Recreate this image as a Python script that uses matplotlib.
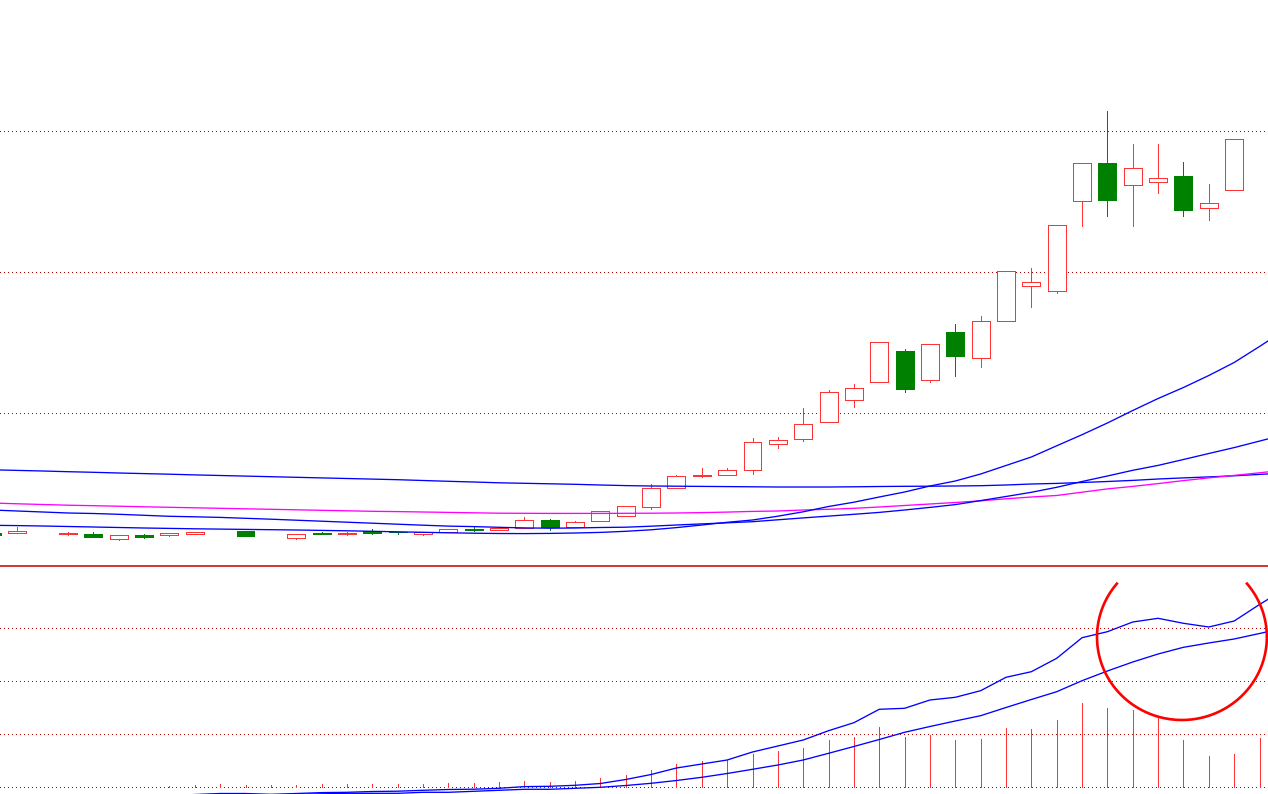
"""
Candlestick chart + 4 moving averages, MACD-style sub window below.
No axis labels, MT4 look (white bg, dotted dark red grid).
"""

import numpy as np
import matplotlib
matplotlib.use("Agg")
import matplotlib.pyplot as plt
from matplotlib.patches import Rectangle

nan = np.nan

###################
## CANDLE DATA   ##
###################
# bar -1 is the one cut by the left edge, missing bars are nan
BARS = list(range(-1, 50))
OPEN  = [12.13, 12.13, nan, 12.04, 12.00, 11.53, 11.90, 11.93, 11.97, nan,
         12.30, nan, 11.63, 12.10, 12.03, 12.27, 12.23, 12.03, 12.23, 12.48,
         12.37, 12.60, 13.37, 12.70, 13.27, 13.77, 14.67, 16.57, 17.83, 17.87,
         18.37, 20.97, 21.47, 23.17, 25.37, 27.17, 30.30, 27.37, 32.20, 29.57,
         33.30, 36.77, 36.27, 45.27, 49.10, 46.87, 47.17, 47.80, 44.57, 46.37, nan]
HIGH  = [12.13, 12.70, nan, 12.20, 12.20, 11.87, 12.03, 12.10, 12.20, nan,
         12.30, nan, 12.00, 12.23, 12.23, 12.50, 12.25, 12.17, 12.47, 12.73,
         12.60, 13.70, 13.50, 13.30, 14.27, 14.77, 17.00, 17.93, 18.60, 18.60,
         21.60, 21.70, 24.60, 26.40, 27.00, 31.17, 30.50, 30.97, 33.00, 33.80,
         38.27, 38.60, 42.87, 49.07, 54.30, 51.00, 51.00, 49.20, 47.00, 51.47, nan]
LOW   = [11.93, 12.13, nan, 11.93, 11.73, 11.43, 11.63, 11.83, 11.97, nan,
         11.83, nan, 11.50, 12.03, 11.93, 12.03, 12.03, 11.93, 12.23, 12.30,
         12.37, 12.60, 12.37, 12.70, 13.27, 13.77, 14.50, 16.57, 17.73, 17.87,
         18.03, 20.63, 21.33, 23.17, 24.73, 27.17, 26.23, 27.23, 27.83, 28.73,
         33.30, 34.73, 36.13, 42.83, 43.83, 42.83, 46.13, 43.83, 43.43, 46.37, nan]
CLOSE = [11.93, 12.30, nan, 12.08, 11.73, 11.87, 11.73, 12.10, 12.20, nan,
         11.83, nan, 12.00, 12.03, 12.10, 12.13, 12.20, 12.17, 12.47, 12.45,
         12.60, 13.37, 12.73, 13.17, 14.27, 14.77, 16.57, 17.77, 17.87, 18.37,
         21.17, 21.37, 22.97, 26.17, 26.57, 31.17, 26.53, 30.97, 29.83, 33.30,
         38.27, 37.17, 42.87, 49.07, 45.43, 48.57, 47.57, 44.43, 45.07, 51.47, nan]

#######################
## MOVING AVERAGES   ##
#######################
MA_BARS = list(range(-1, 51))
MA_SLOW = [18.42, 18.36, 18.30, 18.23, 18.17, 18.10, 18.04, 17.98, 17.91, 17.85,
           17.79, 17.73, 17.67, 17.61, 17.55, 17.49, 17.43, 17.35, 17.27, 17.20,
           17.12, 17.07, 17.02, 16.97, 16.90, 16.84, 16.80, 16.78, 16.76, 16.74,
           16.72, 16.70, 16.70, 16.70, 16.72, 16.75, 16.77, 16.78, 16.80, 16.83,
           16.90, 17.00, 17.06, 17.15, 17.25, 17.36, 17.50, 17.61, 17.71, 17.82,
           17.96, 18.10]
MA_PINK = [15.10, 15.02, 14.95, 14.88, 14.83, 14.78, 14.72, 14.67, 14.62, 14.57,
           14.52, 14.47, 14.42, 14.37, 14.32, 14.27, 14.24, 14.20, 14.16, 14.12,
           14.08, 14.07, 14.06, 14.06, 14.06, 14.07, 14.08, 14.10, 14.14, 14.19,
           14.26, 14.30, 14.40, 14.47, 14.57, 14.70, 14.85, 15.00, 15.15, 15.32,
           15.52, 15.70, 15.85, 16.18, 16.51, 16.76, 17.04, 17.34, 17.61, 17.86,
           18.12, 18.40]
MA_MID  = [14.40, 14.30, 14.20, 14.10, 14.05, 13.97, 13.87, 13.77, 13.72, 13.66,
           13.57, 13.48, 13.38, 13.28, 13.18, 13.08, 12.98, 12.88, 12.79, 12.74,
           12.67, 12.61, 12.58, 12.60, 12.65, 12.68, 12.78, 12.90, 13.01, 13.12,
           13.23, 13.42, 13.61, 13.79, 13.97, 14.16, 14.40, 14.66, 14.94, 15.34,
           15.75, 16.17, 16.67, 17.25, 17.80, 18.37, 18.86, 19.45, 20.05, 20.64,
           21.29, 21.95]
MA_FAST = [12.87, 12.84, 12.80, 12.75, 12.70, 12.65, 12.60, 12.56, 12.52, 12.49,
           12.46, 12.43, 12.40, 12.36, 12.32, 12.27, 12.22, 12.17, 12.12, 12.08,
           12.05, 12.04, 12.06, 12.10, 12.16, 12.27, 12.42, 12.64, 12.90, 13.17,
           13.40, 13.78, 14.22, 14.75, 15.18, 15.70, 16.20, 16.80, 17.30, 18.00,
           18.85, 19.70, 20.82, 21.93, 23.10, 24.35, 25.55, 26.65, 27.85, 29.15,
           30.75, 32.40]

#####################
## SUB WINDOW DATA ##
#####################
HIST = [0, 0, 0, 0, 0, 0, 0, 0.010, 0.023, 0.033,
        0.023, 0.023, 0.023, 0.033, 0.033, 0.033, 0.033, 0.033, 0.043, 0.043,
        0.053, 0.063, 0.053, 0.063, 0.093, 0.123, 0.17, 0.23, 0.26, 0.27,
        0.33, 0.36, 0.39, 0.47, 0.50, 0.60, 0.50, 0.52, 0.47, 0.48,
        0.59, 0.58, 0.67, 0.84, 0.79, 0.77, 0.69, 0.47, 0.31, 0.33, 0.49]
MACD   = [-0.100, -0.105, -0.110, -0.110, -0.115, -0.110, -0.100, -0.090, -0.075, -0.065,
          -0.065, -0.073, -0.065, -0.056, -0.053, -0.045, -0.042, -0.033, -0.025, -0.022,
          -0.013, 0.004, 0.007, 0.017, 0.035, 0.075, 0.125, 0.19, 0.23, 0.27,
          0.35, 0.41, 0.47, 0.563, 0.643, 0.777, 0.787, 0.87, 0.897, 0.963,
          1.097, 1.153, 1.287, 1.493, 1.553, 1.65, 1.687, 1.637, 1.60, 1.66,
          1.825, 1.98]
SIGNAL = [-0.120, -0.125, -0.130, -0.130, -0.130, -0.125, -0.120, -0.110, -0.100, -0.090,
          -0.085, -0.080, -0.075, -0.068, -0.063, -0.063, -0.063, -0.053, -0.053, -0.043,
          -0.033, -0.023, -0.023, -0.013, -0.003, 0.015, 0.037, 0.065, 0.097, 0.135,
          0.177, 0.22, 0.27, 0.337, 0.405, 0.475, 0.547, 0.605, 0.66, 0.713,
          0.795, 0.875, 0.953, 1.063, 1.16, 1.25, 1.33, 1.397, 1.44, 1.48,
          1.535, 1.59]

PRICE_GRID = [24.1, 38.2, 52.3]
SUB_GRID = [0.0, 0.53, 1.06, 1.59]

# ring drawn round the last MACD bars (centre bar, centre value, radii)
RING_X, RING_Y, RING_RX, RING_RY = 45.94, 1.50, 3.35, 0.83

UP = '#ff3333'
DOWN = '#008000'
GRID = '#b00000'
PX = 0.72   # one pixel in points at dpi 100
LW = 0.95   # indicator lines, smoothed

fig = plt.figure(figsize=(12.68, 7.94), dpi=100)
ax1 = fig.add_axes([0, 228 / 794, 1, 566 / 794])
ax2 = fig.add_axes([0, 0, 1, 228 / 794])

XLIM = (-17.35 / 25.35, (1268 - 17.35) / 25.35)

#################
## MAIN PANEL  ##
#################
for y in PRICE_GRID:
    ax1.axhline(y, color=GRID, lw=PX, ls=(0, (1, 3)), zorder=1, antialiased=False)

w = 0.71
for b, o, h, l, c in zip(BARS, OPEN, HIGH, LOW, CLOSE):
    if np.isnan(o):
        continue
    up = c >= o
    col = UP if up else DOWN
    ax1.vlines(b, l, h, color=col, lw=PX, zorder=2, antialiased=False)
    ax1.add_patch(Rectangle((b - w / 2, min(o, c)), w, abs(c - o),
                            facecolor='white' if up else DOWN,
                            edgecolor=col, lw=PX, zorder=3, antialiased=False))

for vals, col in ((MA_SLOW, '#0000ff'), (MA_PINK, '#ff00ff'),
                  (MA_MID, '#0000ff'), (MA_FAST, '#0000ff')):
    ax1.plot(MA_BARS, vals, color=col, lw=LW, zorder=4)

ax1.set_xlim(*XLIM)
ax1.set_ylim(8.8, 65.4)

################
## SUB PANEL  ##
################
for y in SUB_GRID:
    ax2.axhline(y, color=GRID, lw=PX, ls=(0, (1, 3)), zorder=1, antialiased=False)

bars = [b for b, v in zip(BARS, HIST) if v > 0]
vals = [v for v in HIST if v > 0]
ax2.vlines(bars, 0, vals, color=UP, lw=PX, zorder=2, antialiased=False)

ax2.plot(MA_BARS, MACD, color='#0000ff', lw=LW, zorder=3)
ax2.plot(MA_BARS, SIGNAL, color='#0000ff', lw=LW, zorder=3)

t = np.deg2rad(np.linspace(140, 400, 200))
ax2.plot(RING_X + RING_RX * np.cos(t), RING_Y + RING_RY * np.sin(t),
         color='#ff0000', lw=1.9, zorder=5, clip_on=False)

ax2.set_xlim(*XLIM)
ax2.set_ylim(-0.07, 2.21)

for ax in (ax1, ax2):
    ax.set_xticks([])
    ax.set_yticks([])
    for s in ax.spines.values():
        s.set_visible(False)
ax2.spines['top'].set_visible(True)
ax2.spines['top'].set_color('#c00000')
ax2.spines['top'].set_linewidth(1.1)

fig.savefig("out.png", dpi=100, facecolor='white')
